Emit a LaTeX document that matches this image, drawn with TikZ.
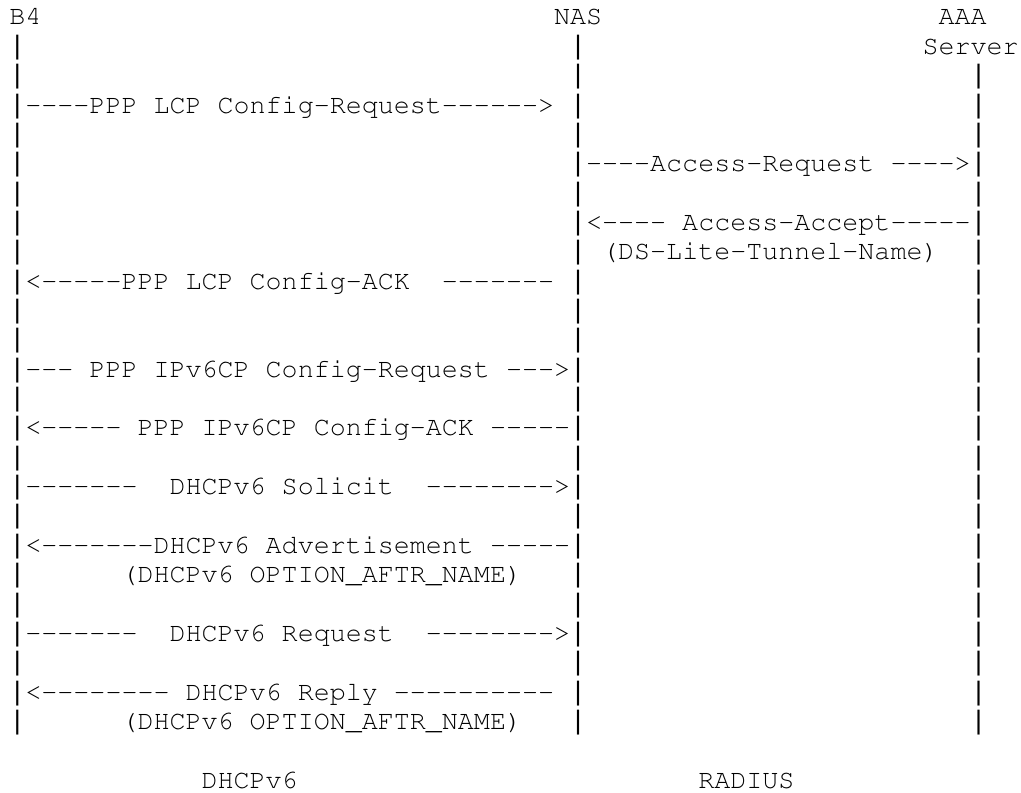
\documentclass[tikz,border=0pt]{standalone}
\usepackage[T1,TU]{fontenc}
\usepackage{fontspec}
\newfontfamily\barfont{Liberation Mono}
\newcommand\hy[1]{\foreach\k in {1,...,#1}{-}}
\begin{document}
\begin{tikzpicture}[x=8.01pt,y=-14.675pt,
		txt/.style={font=\fontencoding{T1}\fontfamily{pcr}\fontsize{13.35}{14.675}\selectfont,anchor=base west,inner sep=0pt},
		bar/.style={font=\barfont\fontsize{13.35}{14.675}\selectfont,anchor=base west,inner sep=0pt}]
		\useasboundingbox (-4.5pt,12.5pt) rectangle (506pt,-383.5pt);
		
		\node[txt] (bfour) at (0,0) {B4};
		\node[txt] (nas) at (34,0) {NAS};
		\node[txt] (aaa) at (58,0) {AAA};
		\node[txt] (server) at (57,1) {Server};
		
		\foreach \r in {1,...,24} {
			\node[bar] (lb\r) at (0,\r) {|};
			\node[bar] (ln\r) at (35,\r) {|};
		}
		\foreach \r in {2,...,24}
			\node[bar] (la\r) at (60,\r) {|};
		
		\node[txt] (lcpreq) at (1,3) {\hy{4}PPP LCP Config-Request\hy{6}>};
		\node[txt] (accreq) at (36,5) {\hy{4}Access-Request \hy{4}>};
		\node[txt] (accacc) at (36,7) {<\hy{4} Access-Accept\hy{5}};
		\node[txt] (tunname) at (37,8) {(DS-Lite-Tunnel-Name)};
		\node[txt] (lcpack) at (1,9) {<\hy{5}PPP LCP Config-ACK~~\hy{7}};
		\node[txt] (cpreq) at (1,12) {\hy{3} PPP IPv6CP Config-Request \hy{3}>};
		\node[txt] (cpack) at (1,14) {<\hy{5} PPP IPv6CP Config-ACK \hy{5}};
		\node[txt] (solicit) at (1,16) {\hy{7}~~DHCPv6 Solicit~~\hy{8}>};
		\node[txt] (advert) at (1,18) {<\hy{7}DHCPv6 Advertisement \hy{5}};
		\node[txt] (advopt) at (7,19) {(DHCPv6 OPTION\_AFTR\_NAME)};
		\node[txt] (request) at (1,21) {\hy{7}~~DHCPv6 Request~~\hy{8}>};
		\node[txt] (reply) at (1,23) {<\hy{8} DHCPv6 Reply \hy{10}};
		\node[txt] (replyopt) at (7,24) {(DHCPv6 OPTION\_AFTR\_NAME)};
		
		\node[txt] (dhcp) at (12,26) {DHCPv6};
		\node[txt] (radius) at (43,26) {RADIUS};
\end{tikzpicture}
\end{document}
